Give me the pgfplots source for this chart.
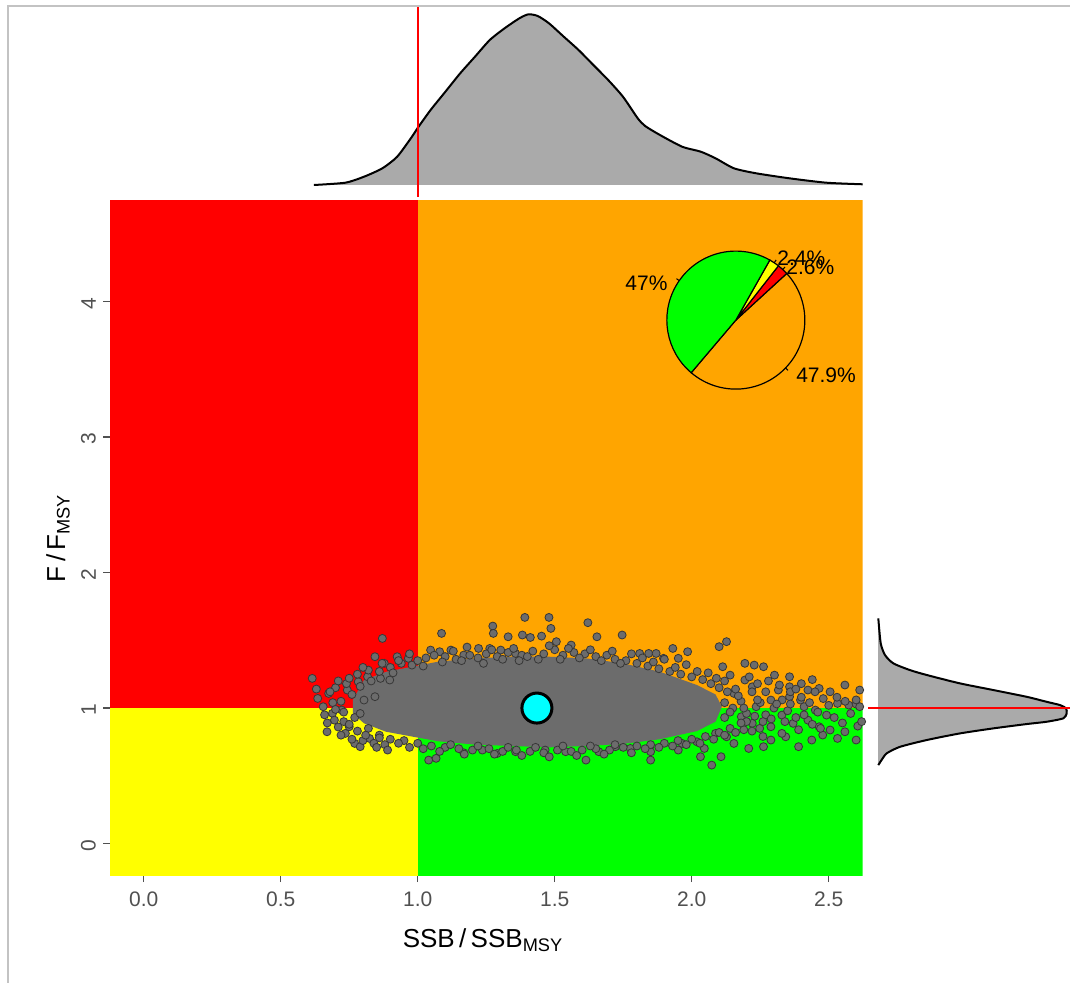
\documentclass[border=0pt]{standalone}
\usepackage{fontspec}
\setmainfont{Liberation Sans}
\usepackage{pgfplots}
\pgfplotsset{compat=1.18}
\definecolor{kred}{RGB}{255,0,0}
\definecolor{korange}{RGB}{255,165,0}
\definecolor{kyellow}{RGB}{255,255,0}
\definecolor{kgreen}{RGB}{0,255,0}
\definecolor{kcyan}{RGB}{0,255,255}
\definecolor{coregray}{RGB}{108,108,108}
\definecolor{ptgray}{RGB}{108,108,108}
\definecolor{ptedge}{RGB}{55,55,55}
\definecolor{densgray}{RGB}{170,170,170}
\definecolor{labgray}{RGB}{80,80,80}
\definecolor{framegray}{RGB}{195,195,195}
\begin{document}
\begin{tikzpicture}
\useasboundingbox (0pt,0pt) rectangle (535pt,-491.5pt);
\draw[framegray, line width=0.8pt] (4pt,-491.5pt) -- (4pt,-3pt) -- (535pt,-3pt);

% ---------------- main panel ----------------
\begin{axis}[
  at={(55pt,-437.5pt)}, anchor=south west,
  width=376.35pt, height=337pt, scale only axis,
  xmin=-0.123, xmax=2.624, ymin=-0.232, ymax=4.742,
  axis line style={draw=none},
  tick align=outside, major tick length=3.5pt,
  xtick={0,0.5,1,1.5,2,2.5}, xticklabels={0.0,0.5,1.0,1.5,2.0,2.5},
  ytick={0,1,2,3,4}, yticklabels={0,1,2,3,4},
  xtick pos=left, ytick pos=left,
  tick style={labgray, line width=0.6pt},
  ticklabel style={font=\fontsize{10.5}{12}\selectfont, text=labgray},
  xticklabel style={yshift=-1.5pt},
  yticklabel style={rotate=90, anchor=south, xshift=-1pt},
  clip=true,
]
% zones
\addplot[fill=kyellow, draw=none] coordinates {(-0.5,-1) (1,-1) (1,1) (-0.5,1)};
\addplot[fill=kred, draw=none] coordinates {(-0.5,1) (1,1) (1,6) (-0.5,6)};
\addplot[fill=kgreen, draw=none] coordinates {(1,-1) (3,-1) (3,1) (1,1)};
\addplot[fill=korange, draw=none] coordinates {(1,1) (3,1) (3,6) (1,6)};

% dense core of the cloud
\addplot[fill=coregray, draw=none] coordinates {
(0.763,1.059) (0.804,1.207) (0.885,1.268) (0.979,1.305) (1.074,1.342) (1.209,1.367)
(1.344,1.379) (1.479,1.379) (1.614,1.367) (1.749,1.330) (1.884,1.268) (2.019,1.170)
(2.087,1.100) (2.110,1.010) (2.087,0.900) (2.019,0.830) (1.884,0.770) (1.749,0.735)
(1.614,0.720) (1.479,0.710) (1.344,0.720) (1.209,0.730) (1.074,0.755) (0.979,0.790)
(0.885,0.825) (0.804,0.887) (0.763,0.961)};

% scattered points
\addplot[only marks, mark=*, mark size=2pt, mark options={fill=ptgray, draw=ptedge, line width=0.4pt}] coordinates {
(0.871,1.514) (1.087,1.551) (1.391,1.669) (1.479,1.669) (1.274,1.605) (1.276,1.551)
(1.621,1.630) (1.746,1.539) (1.486,1.588) (1.382,1.539) (1.330,1.526) (1.411,1.521)
(1.452,1.531) (1.506,1.490) (1.560,1.465) (1.654,1.526) (2.127,1.490) (2.100,1.453)
(1.985,1.416) (1.931,1.440) (1.810,1.403) (1.843,1.403) (1.870,1.403) (1.897,1.367)
(1.951,1.367) (1.047,1.428) (1.080,1.416) (1.121,1.428) (1.222,1.440) (1.263,1.440)
(1.303,1.428) (1.357,1.403) (1.168,1.391) (0.844,1.379) (0.925,1.379) (0.966,1.367)
(0.878,1.330) (0.979,1.317)
(0.615,1.219) (0.635,1.071) (0.675,1.108) (0.743,1.133) (0.783,1.194) (0.817,1.231)
(0.864,1.219) (0.898,1.207) (0.655,1.010) (0.689,0.961) (0.696,0.911) (0.669,0.825)
(0.736,0.813) (0.770,0.739) (0.790,0.715) (0.824,0.776) (0.750,0.862) (0.723,0.985)
(0.804,1.059) (0.844,1.084)
(1.040,0.616) (1.067,0.629) (1.168,0.670) (1.236,0.690) (1.290,0.665) (1.357,0.678)
(1.465,0.690) (1.540,0.678) (1.614,0.616) (1.661,0.678) (1.722,0.715) (1.776,0.702)
(1.850,0.678) (1.850,0.616) (1.951,0.690) (2.032,0.641) (2.073,0.579) (2.107,0.641)
(2.154,0.739) (2.208,0.702) (2.262,0.715) (2.289,0.764) (2.343,0.788) (2.390,0.715)
(2.438,0.764) (2.478,0.801) (2.532,0.776) (2.600,0.764) (2.606,0.867)
(2.194,1.330) (2.228,1.317) (2.262,1.305) (2.302,1.243) (2.357,1.231) (2.194,1.207)
(2.140,1.243) (2.113,1.305) (2.424,1.133) (2.465,1.145) (2.559,1.170) (2.613,1.133)
(2.532,1.034) (2.573,1.022) (2.600,1.029) (2.357,1.084) (2.397,1.059) (2.451,0.985)
(2.492,0.948) (2.424,0.911) (2.465,0.862) (2.505,0.838) (2.559,0.825) (2.329,0.948)
(2.370,0.887) (2.289,0.862) (2.329,0.813) (2.248,0.850) (2.221,0.887) (2.181,0.936)
(2.235,1.010) (2.289,1.059) (2.154,1.108) (2.357,1.157) (2.505,1.120) (2.613,1.010)
(2.316,1.133) (2.410,1.010) (2.221,1.157) (2.087,0.813) (2.127,0.788) (2.019,0.751)
(2.046,0.702) (1.965,0.739)
(0.90,1.30) (0.94,1.33) (1.00,1.35) (1.03,1.37) (1.10,1.38) (1.14,1.36) (1.19,1.39)
(1.25,1.40) (1.29,1.38) (1.33,1.41) (1.38,1.39) (1.42,1.42) (1.46,1.40) (1.50,1.43)
(1.53,1.39) (1.57,1.41) (1.61,1.40) (1.65,1.38) (1.69,1.39) (1.72,1.36) (1.76,1.35)
(1.80,1.33) (1.84,1.31) (1.88,1.29) (1.92,1.27) (1.96,1.25) (2.00,1.23) (2.04,1.21)
(2.07,1.18) (2.10,1.15) (2.13,1.12)
(0.86,0.80) (0.90,0.77) (0.95,0.76) (1.00,0.74) (1.05,0.72) (1.10,0.71) (1.15,0.70)
(1.20,0.69) (1.26,0.70) (1.31,0.68) (1.36,0.69) (1.41,0.68) (1.46,0.67) (1.51,0.69)
(1.56,0.68) (1.60,0.69) (1.65,0.70) (1.70,0.69) (1.75,0.71) (1.80,0.72) (1.85,0.73)
(1.90,0.74) (1.95,0.76) (2.00,0.77) (2.05,0.79) (2.10,0.82) (2.14,0.85)
(2.15,1.00) (2.18,1.05) (2.20,0.96) (2.12,0.93) (2.17,1.09) (2.22,1.12) (2.25,1.04)
(2.27,0.95) (2.30,1.00) (2.33,1.06) (2.35,0.98) (2.38,0.93) (2.40,1.08) (2.43,1.04)
(2.46,0.97) (2.20,0.90) (2.26,0.90) (2.24,1.18) (2.28,1.20) (2.32,1.17) (2.36,1.12)
(2.40,1.18) (2.44,1.21) (2.48,1.07) (2.52,0.93) (2.55,0.89) (2.58,0.96) (2.62,0.90)
(2.50,1.02)
(0.72,1.05) (0.70,1.15) (0.74,1.18) (0.78,1.25) (0.82,1.28) (0.86,1.27) (0.77,0.93)
(0.73,0.90) (0.78,0.83) (0.82,0.85) (0.86,0.78) (0.80,0.76) (0.84,0.74) (0.88,0.73)
(0.69,1.04) (0.66,0.95) (0.71,0.86)
(0.97,1.40) (1.02,1.31) (1.06,1.39) (1.09,1.34) (1.13,1.42) (1.16,1.35) (1.18,1.45)
(1.22,1.37) (1.24,1.33) (1.27,1.43) (1.31,1.36) (1.35,1.44) (1.37,1.35) (1.40,1.38)
(1.44,1.36) (1.48,1.46) (1.52,1.36) (1.55,1.44) (1.59,1.37) (1.63,1.43) (1.67,1.35)
(1.71,1.42) (1.74,1.33) (1.78,1.40) (1.82,1.37) (1.86,1.34) (1.90,1.36) (1.94,1.30)
(1.98,1.32) (2.02,1.27) (2.06,1.26) (2.09,1.22) (2.12,1.20)
(0.93,0.74) (0.97,0.71) (1.02,0.70) (1.08,0.68) (1.12,0.73) (1.17,0.66) (1.22,0.72)
(1.28,0.66) (1.33,0.71) (1.38,0.65) (1.43,0.71) (1.48,0.64) (1.53,0.72) (1.58,0.65)
(1.63,0.72) (1.68,0.66) (1.72,0.73) (1.78,0.67) (1.83,0.70) (1.88,0.71) (1.93,0.72)
(1.98,0.73) (2.03,0.74) (2.08,0.77) (2.12,0.80) (2.16,0.82) (2.19,0.84)
(0.68,1.12) (0.71,1.20) (0.75,1.22) (0.79,1.16) (0.80,1.30) (0.83,1.20) (0.87,1.33)
(0.91,1.26) (0.93,1.35) (0.76,1.10) (0.73,0.97) (0.70,0.99) (0.75,0.88) (0.72,0.80)
(0.76,0.77) (0.81,0.80) (0.85,0.71) (0.89,0.69) (0.79,0.96) (0.67,0.89) (0.63,1.14)
(2.12,1.04) (2.14,0.97) (2.16,1.14) (2.19,1.00) (2.21,1.23) (2.23,0.94) (2.24,1.06)
(2.27,1.12) (2.29,0.92) (2.31,1.03) (2.34,0.90) (2.36,1.03) (2.38,1.14) (2.41,0.95)
(2.44,0.88) (2.45,1.12) (2.47,0.85) (2.53,1.08) (2.56,1.05) (2.60,1.06) (2.22,0.83)
(2.18,0.89) (2.26,0.79) (2.39,0.84)};

% current point
\addplot[only marks, mark=*, mark size=7.5pt, mark options={fill=kcyan, draw=black, line width=1.5pt}] coordinates {(1.435,1.0)};

% pie chart of the share of points in each zone: 47 green, 2.4 yellow, 2.6 red, 47.9 orange
\filldraw[fill=korange, draw=black, line width=0.6pt] (axis cs:2.161,3.863) -- ++(229.7:34.5pt) arc[start angle=229.7, end angle=402.5, radius=34.5pt] -- cycle;
\filldraw[fill=kred, draw=black, line width=0.6pt] (axis cs:2.161,3.863) -- ++(42.5:34.5pt) arc[start angle=42.5, end angle=51.9, radius=34.5pt] -- cycle;
\filldraw[fill=kyellow, draw=black, line width=0.6pt] (axis cs:2.161,3.863) -- ++(51.9:34.5pt) arc[start angle=51.9, end angle=60.5, radius=34.5pt] -- cycle;
\filldraw[fill=kgreen, draw=black, line width=0.6pt] (axis cs:2.161,3.863) -- ++(60.5:34.5pt) arc[start angle=60.5, end angle=229.7, radius=34.5pt] -- cycle;
\draw[black, line width=0.5pt] (axis cs:2.161,3.863) ++(145.1:34.5pt) -- ++(145.1:1.7pt);
\draw[black, line width=0.5pt] (axis cs:2.161,3.863) ++(316.1:34.5pt) -- ++(316.1:1.7pt);
\draw[black, line width=0.5pt] (axis cs:2.161,3.863) ++(56.2:34.5pt) -- ++(56.2:1.7pt);
\draw[black, line width=0.5pt] (axis cs:2.161,3.863) ++(47.2:34.5pt) -- ++(47.2:1.7pt);
\node[anchor=east, inner sep=0pt, font=\fontsize{10.5}{12}\selectfont] at (axis cs:1.913,4.137) {47\%};
\node[anchor=west, inner sep=0pt, font=\fontsize{10.5}{12}\selectfont] at (axis cs:2.311,4.321) {2.4\%};
\node[anchor=west, inner sep=0pt, font=\fontsize{10.5}{12}\selectfont] at (axis cs:2.344,4.255) {2.6\%};
\node[anchor=west, inner sep=0pt, font=\fontsize{10.5}{12}\selectfont] at (axis cs:2.380,3.458) {47.9\%};
\end{axis}

% ---------------- top marginal density ----------------
\begin{axis}[
  at={(55pt,-98.5pt)}, anchor=south west,
  width=376.35pt, height=95pt, scale only axis,
  xmin=-0.123, xmax=2.624, ymin=-12, ymax=178,
  hide axis, clip=false,
]
\addplot[fill=densgray, draw=none] coordinates {
(0.621,0) (0.736,2.3) (0.804,8.3) (0.871,16.7) (0.925,28.3) (0.979,48.3) (0.999,56.7)
(1.047,75) (1.101,93.3) (1.155,111.7) (1.209,128.3) (1.263,145) (1.317,156.7) (1.371,166.7)
(1.404,170.7) (1.438,169) (1.479,161.7) (1.533,148.3) (1.587,135) (1.641,120) (1.695,105)
(1.749,88.3) (1.803,66.7) (1.830,59) (1.884,50) (1.965,38.3) (2.033,33.3) (2.087,26.7)
(2.154,16.7) (2.235,11.7) (2.356,6.7) (2.491,2.3) (2.624,0.7) (2.624,0)};
\addplot[black, line width=1pt, smooth, tension=0.4] coordinates {
(0.621,0) (0.736,2.3) (0.804,8.3) (0.871,16.7) (0.925,28.3) (0.979,48.3) (0.999,56.7)
(1.047,75) (1.101,93.3) (1.155,111.7) (1.209,128.3) (1.263,145) (1.317,156.7) (1.371,166.7)
(1.404,170.7) (1.438,169) (1.479,161.7) (1.533,148.3) (1.587,135) (1.641,120) (1.695,105)
(1.749,88.3) (1.803,66.7) (1.830,59) (1.884,50) (1.965,38.3) (2.033,33.3) (2.087,26.7)
(2.154,16.7) (2.235,11.7) (2.356,6.7) (2.491,2.3) (2.624,0.7)};
\addplot[kred, line width=0.9pt] coordinates {(1,-12) (1,178)};
\end{axis}

% ---------------- right marginal density ----------------
\begin{axis}[
  at={(434pt,-437.5pt)}, anchor=south west,
  width=101pt, height=337pt, scale only axis,
  xmin=-10, xmax=192, ymin=-0.232, ymax=4.742,
  hide axis, clip=false,
]
\addplot[fill=densgray, draw=none] coordinates {
(0,1.662) (0.3,1.662) (2.7,1.478) (7,1.391) (15.3,1.330) (32,1.280) (48.7,1.244) (82,1.182)
(115.3,1.133) (148.7,1.083) (168.7,1.046) (182,1.022) (188,0.998) (188.7,0.961) (185.3,0.924)
(168.7,0.899) (148.7,0.882) (115.3,0.850) (82,0.813) (48.7,0.764) (22,0.714) (8.7,0.666)
(3.7,0.618) (0.3,0.579) (0,0.579)};
\addplot[black, line width=1pt, smooth, tension=0.4] coordinates {
(0.3,1.662) (2.7,1.478) (7,1.391) (15.3,1.330) (32,1.280) (48.7,1.244) (82,1.182)
(115.3,1.133) (148.7,1.083) (168.7,1.046) (182,1.022) (188,0.998) (188.7,0.961) (185.3,0.924)
(168.7,0.899) (148.7,0.882) (115.3,0.850) (82,0.813) (48.7,0.764) (22,0.714) (8.7,0.666)
(3.7,0.618) (0.3,0.579)};
\addplot[kred, line width=0.9pt] coordinates {(-10,1) (192,1)};
\end{axis}

% axis titles
\node[font=\fontsize{13}{15}\selectfont] at (241.5pt,-470pt) {SSB\,/\,SSB\textsubscript{MSY}};
\node[font=\fontsize{13}{15}\selectfont, rotate=90] at (29pt,-269pt) {F\,/\,F\textsubscript{MSY}};
\end{tikzpicture}
\end{document}
